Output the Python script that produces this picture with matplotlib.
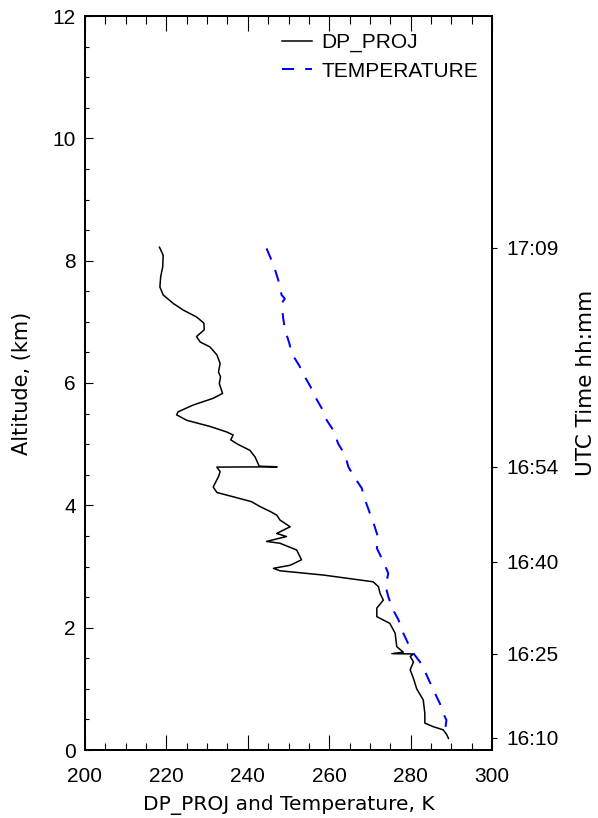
import numpy as np
import matplotlib
matplotlib.use('Agg')
import matplotlib.pyplot as plt
from matplotlib.ticker import MultipleLocator

plt.rcParams['font.family'] = ['Liberation Sans', 'DejaVu Sans']

# DP_PROJ profile (K, km), top to bottom
dp_temp = [218.3, 219.2, 219.1, 218.6, 218.4, 219.2, 221.7, 224.2, 227.4, 229.2,
           229.3, 227.4, 228.3, 230.7, 232.4, 233.2, 232.8, 233.3, 233.0, 233.8,
           231.5, 226.6, 222.9, 222.5, 225.0, 230.7, 234.8, 236.4, 235.8, 237.5,
           240.5, 241.8, 242.8, 247.2, 232.4, 233.2, 232.8, 231.5, 232.4, 236.4,
           240.9, 243.0, 245.5, 247.1, 247.9, 250.4, 247.1, 249.5, 244.6, 247.9,
           252.0, 253.2, 250.4, 246.3, 247.9, 258.6, 270.8, 272.1, 272.5, 273.3,
           271.7, 271.7, 274.9, 276.2, 276.6, 278.2, 275.4, 280.7, 279.9, 280.7,
           279.9, 280.7, 281.5, 283.1, 283.5, 283.5, 285.6, 288.0, 288.8, 289.3]
dp_alt = [8.22, 8.09, 7.90, 7.74, 7.57, 7.44, 7.30, 7.19, 7.08, 6.98,
          6.87, 6.76, 6.67, 6.59, 6.46, 6.32, 6.18, 6.10, 5.99, 5.83,
          5.75, 5.64, 5.53, 5.48, 5.39, 5.29, 5.20, 5.15, 5.07, 5.00,
          4.90, 4.79, 4.64, 4.63, 4.625, 4.55, 4.47, 4.30, 4.21, 4.14,
          4.06, 3.98, 3.90, 3.84, 3.76, 3.65, 3.54, 3.49, 3.41, 3.38,
          3.27, 3.11, 3.02, 2.97, 2.93, 2.86, 2.75, 2.67, 2.56, 2.45,
          2.32, 2.18, 2.07, 1.91, 1.69, 1.60, 1.575, 1.57, 1.53, 1.44,
          1.31, 1.17, 1.00, 0.82, 0.60, 0.44, 0.38, 0.33, 0.26, 0.19]

# TEMPERATURE profile (K, km)
t_temp = [244.6, 245.5, 246.7, 247.5, 248.3, 249.1, 248.3, 248.7, 249.1, 250.2,
          250.8, 252.6, 253.6, 255.4, 256.5, 258.4, 259.4, 261.0, 262.2, 263.9,
          264.7, 266.3, 268.0, 268.8, 270.0, 270.8, 272.1, 271.7, 273.3, 274.5,
          273.9, 274.5, 275.7, 277.0, 278.2, 279.4, 280.7, 282.3, 283.9, 285.6,
          287.2, 288.0, 288.8, 288.5, 287.6]
t_alt = [8.20, 8.06, 7.85, 7.68, 7.44, 7.38, 7.30, 7.06, 6.88, 6.65,
         6.48, 6.29, 6.15, 5.94, 5.78, 5.56, 5.39, 5.23, 5.01, 4.82,
         4.63, 4.45, 4.28, 4.09, 3.87, 3.73, 3.46, 3.30, 3.08, 2.89,
         2.67, 2.51, 2.29, 2.13, 1.91, 1.74, 1.58, 1.44, 1.23, 0.98,
         0.76, 0.60, 0.49, 0.33, 0.22]

# UTC time ticks on the right axis
time_alt = [0.20, 1.57, 3.08, 4.63, 8.21]
time_labels = ['16:10', '16:25', '16:40', '16:54', '17:09']

fig = plt.figure(figsize=(5.98, 8.18), dpi=100)
ax = fig.add_axes([85/598, 1-750/818, 407/598, 734/818])

ax.plot(dp_temp, dp_alt, color='black', lw=1.1, label='DP_PROJ')
ax.plot(t_temp, t_alt, color='#0000ff', lw=1.45, dashes=(6, 5.5), label='TEMPERATURE')

ax.set_xlim(200, 300)
ax.set_ylim(0, 12)
ax.xaxis.set_major_locator(MultipleLocator(20))
ax.xaxis.set_minor_locator(MultipleLocator(5))
ax.yaxis.set_major_locator(MultipleLocator(2))
ax.yaxis.set_minor_locator(MultipleLocator(0.5))
ax.tick_params(axis='x', which='both', direction='in', top=True, bottom=True,
               labelsize=15, pad=12, width=0.8)
ax.tick_params(axis='x', which='major', length=10.8)
ax.tick_params(axis='x', which='minor', length=5.4)
ax.tick_params(axis='y', which='both', direction='in', left=True, right=False,
               labelsize=15, pad=6.5, width=0.8)
ax.tick_params(axis='y', which='major', length=5.8)
ax.tick_params(axis='y', which='minor', length=2.9)
for s in ax.spines.values():
    s.set_linewidth(1.4)

ax.text(0.5, -0.075, 'DP_PROJ and Temperature, K', transform=ax.transAxes,
        ha='center', va='center', fontsize=14.5, family='DejaVu Sans')
ax.text(-0.155, 0.5, 'Altitude, (km)', transform=ax.transAxes, rotation=90,
        ha='center', va='center', fontsize=15, family='DejaVu Sans')

ax2 = ax.twinx()
ax2.set_ylim(0, 12)
ax2.set_yticks(time_alt)
ax2.set_yticklabels(time_labels)
ax2.tick_params(axis='y', direction='out', length=3.6, width=0.8, pad=7, labelsize=15)
for s in ax2.spines.values():
    s.set_linewidth(1.4)
ax2.text(1.23, 0.5, 'UTC Time hh:mm', transform=ax.transAxes, rotation=90,
         ha='center', va='center', fontsize=15.5, family='DejaVu Sans')

leg = ax.legend(loc='upper left', bbox_to_anchor=((282-85)/407, (750-33)/734),
                frameon=False, fontsize=15, handlelength=1.45, handletextpad=0.45,
                labelspacing=0.45, borderpad=0, borderaxespad=0)

fig.savefig('out.png', dpi=100)
